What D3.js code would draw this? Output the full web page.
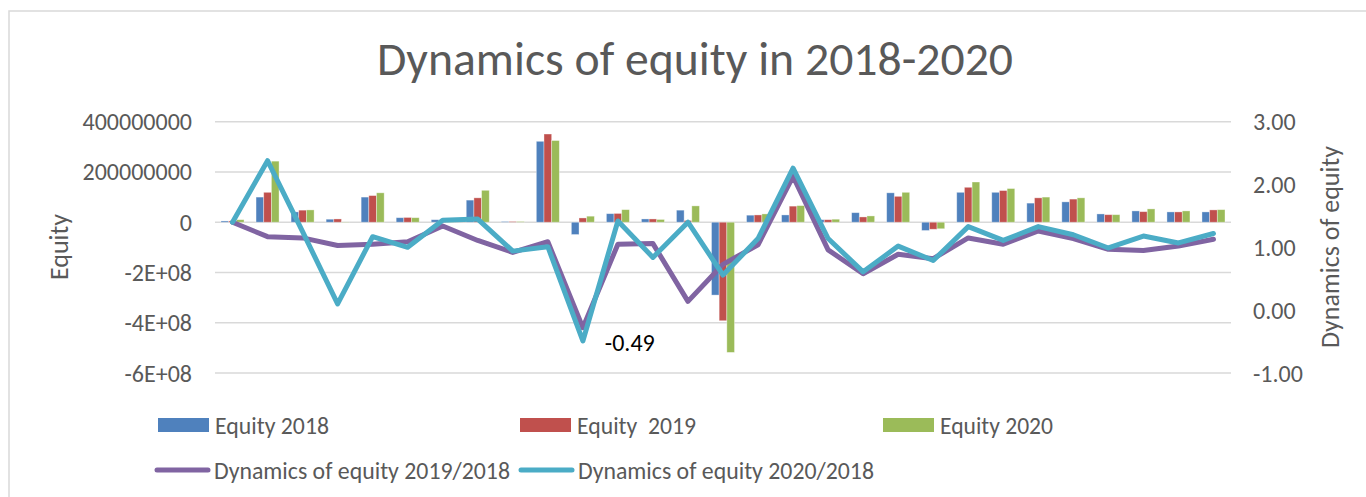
<!DOCTYPE html>
<html>
<head>
<meta charset="utf-8">
<script src="https://cdn.jsdelivr.net/npm/d3@7"></script>
<style>
  body { margin: 0; background: #fff; }
  text { font-family: Carlito, Calibri, "Open Sans", sans-serif; fill: #595959; }
</style>
</head>
<body>
<div class="chart"></div>
<script>
// 29 companies, no labels shown on the x axis
var companies = d3.range(1, 30);

var equity2018 = [5e6, 100e6, 41e6, 12e6, 100e6, 18e6, 10e6, 88e6, 3e6, 322e6,
  -49e6, 34e6, 13e6, 48e6, -290e6, 28e6, 29e6, 10e6, 38e6, 117e6,
  -33e6, 119e6, 119e6, 76e6, 81e6, 33e6, 45e6, 41e6, 41e6];
var equity2019 = [5e6, 119e6, 48e6, 13e6, 106e6, 19e6, 8e6, 97e6, 3e6, 351e6,
  17e6, 35e6, 13e6, 7e6, -392e6, 29e6, 64e6, 10e6, 21e6, 103e6,
  -28e6, 139e6, 126e6, 97e6, 92e6, 30e6, 42e6, 41e6, 49e6];
var equity2020 = [10e6, 243e6, 49e6, 1e6, 117e6, 18e6, 5e6, 127e6, 3e6, 325e6,
  24e6, 50e6, 11e6, 65e6, -518e6, 33e6, 66e6, 12e6, 25e6, 119e6,
  -26e6, 160e6, 134e6, 100e6, 97e6, 30e6, 53e6, 45e6, 50e6];

var dyn2019 = [1.40, 1.17, 1.15, 1.03, 1.05, 1.09, 1.34, 1.11, 0.92, 1.09,
  -0.28, 1.05, 1.06, 0.14, 0.73, 1.04, 2.13, 0.96, 0.58, 0.89,
  0.82, 1.15, 1.05, 1.26, 1.14, 0.97, 0.95, 1.02, 1.13];
var dyn2020 = [1.40, 2.38, 1.25, 0.10, 1.17, 1.00, 1.43, 1.45, 0.94, 1.01,
  -0.49, 1.42, 0.84, 1.40, 0.56, 1.14, 2.26, 1.14, 0.61, 1.02,
  0.79, 1.33, 1.11, 1.33, 1.20, 0.99, 1.18, 1.07, 1.22];

var leftTicks = [-6e8, -4e8, -2e8, 0, 2e8, 4e8];
var leftTickLabels = ["-6E+08", "-4E+08", "-2E+08", "0", "200000000", "400000000"];
var rightTicks = [-1, 0, 1, 2, 3];
var rightTickLabels = ["-1.00", "0.00", "1.00", "2.00", "3.00"];

var barNames = ["Equity 2018", "Equity  2019", "Equity 2020"];
var lineNames = ["Dynamics of equity 2019/2018", "Dynamics of equity 2020/2018"];
var barColors = ["#4F81BD", "#C0504D", "#9BBB59"];
var lineColors = ["#8064A2", "#4BACC6"];

var width = 1366, height = 497;
var plot = {left: 215, right: 1231, top: 121.7, bottom: 373};

var svg = d3.select(".chart").append("svg")
  .attr("width", width)
  .attr("height", height);

// outer chart border
svg.append("rect")
  .attr("x", 9).attr("y", 11)
  .attr("width", 1370).attr("height", 500)
  .attr("fill", "none")
  .attr("stroke", "#d9d9d9")
  .attr("stroke-width", 1.5);

var x = d3.scaleBand()
  .domain(companies)
  .range([plot.left, plot.right])
  .paddingInner(0.343)
  .paddingOuter(0.343 / 2);

var x1 = d3.scaleBand()
  .domain([0, 1, 2])
  .range([0, x.bandwidth()]);

var yLeft = d3.scaleLinear().domain([-6e8, 4e8]).range([plot.bottom, plot.top]);
var yRight = d3.scaleLinear().domain([-1, 3]).range([plot.bottom, plot.top]);

// gridlines
svg.append("g").selectAll("line")
  .data(leftTicks)
  .enter().append("line")
    .attr("x1", plot.left).attr("x2", plot.right)
    .attr("y1", function(d) { return yLeft(d); })
    .attr("y2", function(d) { return yLeft(d); })
    .attr("stroke", "#d9d9d9")
    .attr("stroke-width", 1.5);

// left axis labels
svg.append("g").selectAll("text")
  .data(leftTicks)
  .enter().append("text")
    .attr("x", 192)
    .attr("y", function(d) { return yLeft(d); })
    .attr("text-anchor", "end")
    .attr("dominant-baseline", "central")
    .style("font-size", "24px")
    .text(function(d, i) { return leftTickLabels[i]; });

// right axis labels
svg.append("g").selectAll("text")
  .data(rightTicks)
  .enter().append("text")
    .attr("x", 1253)
    .attr("y", function(d) { return yRight(d); })
    .attr("dominant-baseline", "central")
    .style("font-size", "24px")
    .text(function(d, i) { return rightTickLabels[i]; });

// axis titles
svg.append("text")
  .attr("transform", "translate(59,247) rotate(-90)")
  .attr("text-anchor", "middle")
  .attr("dominant-baseline", "central")
  .style("font-size", "26px")
  .text("Equity");

svg.append("text")
  .attr("transform", "translate(1330,247) rotate(-90)")
  .attr("text-anchor", "middle")
  .attr("dominant-baseline", "central")
  .style("font-size", "26px")
  .text("Dynamics of equity");

// title
svg.append("text")
  .attr("x", 695).attr("y", 75)
  .attr("text-anchor", "middle")
  .attr("textLength", 636)
  .attr("lengthAdjust", "spacingAndGlyphs")
  .style("font-size", "47px")
  .text("Dynamics of equity in 2018-2020");

// bars
var series = [equity2018, equity2019, equity2020];
var groups = svg.append("g").selectAll("g")
  .data(companies)
  .enter().append("g")
    .attr("transform", function(d) { return "translate(" + x(d) + ",0)"; });

groups.selectAll("rect")
  .data(function(d, i) {
    return series.map(function(s, k) { return {k: k, v: s[i]}; });
  })
  .enter().append("rect")
    .attr("x", function(d) { return x1(d.k); })
    .attr("width", x1.bandwidth())
    .attr("y", function(d) { return yLeft(Math.max(0, d.v)); })
    .attr("height", function(d) { return Math.abs(yLeft(d.v) - yLeft(0)); })
    .attr("fill", function(d) { return barColors[d.k]; })
    .attr("stroke", "#fff")
    .attr("stroke-opacity", 0.45)
    .attr("stroke-width", 0.8);

// lines
var line = d3.line()
  .x(function(d, i) { return x(companies[i]) + x.bandwidth() / 2; })
  .y(function(d) { return yRight(d); });

[dyn2019, dyn2020].forEach(function(s, k) {
  svg.append("path")
    .datum(s)
    .attr("d", line)
    .attr("fill", "none")
    .attr("stroke", lineColors[k])
    .attr("stroke-width", 5)
    .attr("stroke-linejoin", "round")
    .attr("stroke-linecap", "round");
});

// data label on the lowest point
var minIdx = d3.minIndex(dyn2020);
svg.append("text")
  .attr("x", x(companies[minIdx]) + x.bandwidth() / 2 + 22)
  .attr("y", yRight(dyn2020[minIdx]) + 2)
  .attr("dominant-baseline", "central")
  .style("font-size", "24px")
  .style("fill", "#000")
  .text(dyn2020[minIdx].toFixed(2));

// legend
var legend = svg.append("g");
var barLegX = [158, 520, 883];
var barTextW = [114, 119, 113];
barNames.forEach(function(name, k) {
  legend.append("rect")
    .attr("x", barLegX[k]).attr("y", 418)
    .attr("width", 51).attr("height", 14)
    .attr("fill", barColors[k]);
  legend.append("text")
    .attr("x", barLegX[k] + 57).attr("y", 425)
    .attr("dominant-baseline", "central")
    .attr("textLength", barTextW[k])
    .attr("lengthAdjust", "spacingAndGlyphs")
    .style("font-size", "24px")
    .style("white-space", "pre")
    .text(name);
});

var lineLegX = [155, 519];
var lineTextW = [296, 296];
lineNames.forEach(function(name, k) {
  legend.append("line")
    .attr("x1", lineLegX[k] + 2).attr("x2", lineLegX[k] + 53)
    .attr("y1", 470).attr("y2", 470)
    .attr("stroke", lineColors[k])
    .attr("stroke-width", 5)
    .attr("stroke-linecap", "round");
  legend.append("text")
    .attr("x", lineLegX[k] + 59).attr("y", 470)
    .attr("dominant-baseline", "central")
    .attr("textLength", lineTextW[k])
    .attr("lengthAdjust", "spacingAndGlyphs")
    .style("font-size", "24px")
    .text(name);
});
</script>
</body>
</html>
